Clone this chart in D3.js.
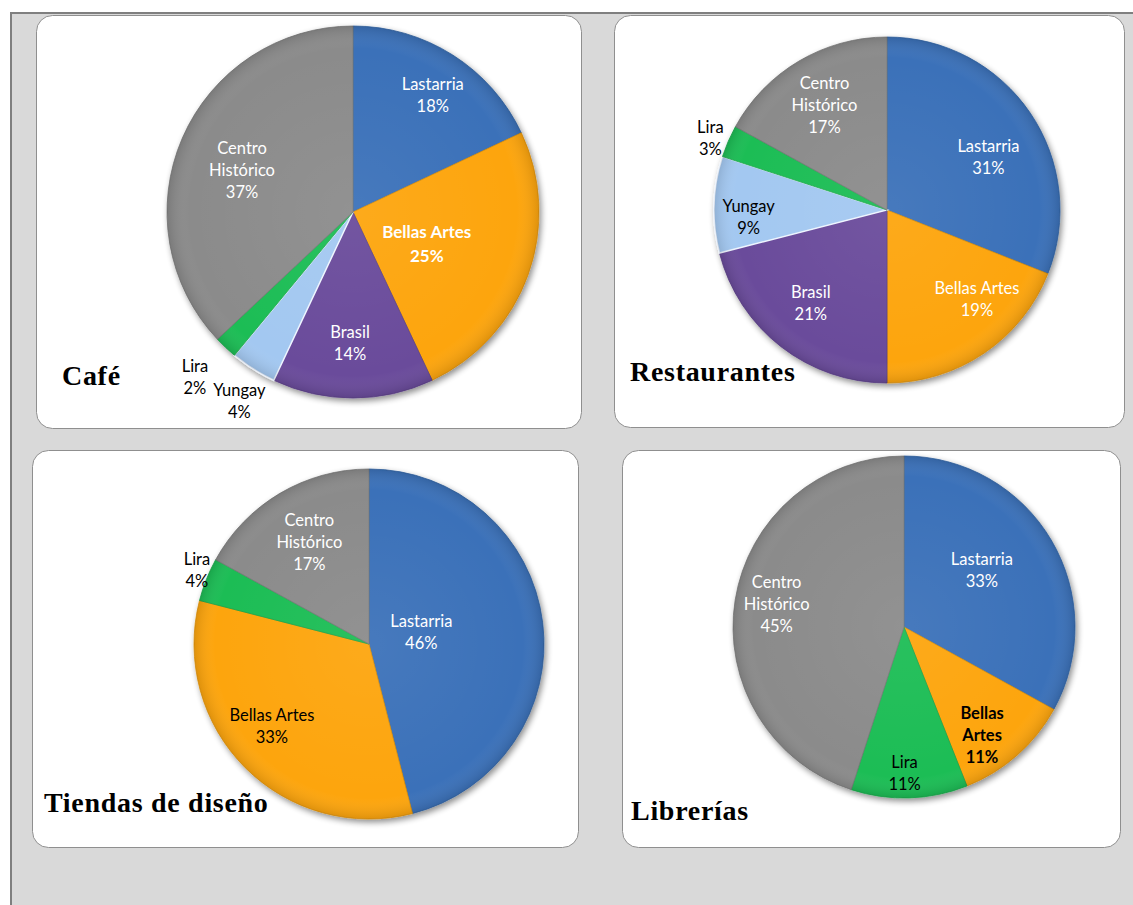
<!DOCTYPE html>
<html>
<head>
<meta charset="utf-8">
<script src="https://cdn.jsdelivr.net/npm/d3@7"></script>
<style>
  body { margin: 0; background: #fff; }
  svg { display: block; }
</style>
</head>
<body>
<div id="chart"></div>
<script>
// data (percent per barrio)
var categories = ["Lastarria", "Bellas Artes", "Brasil", "Yungay", "Lira", "Centro Histórico"];
var titles = ["Café", "Restaurantes", "Tiendas de diseño", "Librerías"];
var cafe = [18, 25, 14, 4, 2, 37];
var restaurantes = [31, 19, 21, 9, 3, 17];
var tiendas = [46, 33, 0, 0, 4, 17];
var librerias = [33, 11, 0, 0, 11, 45];
var series = [cafe, restaurantes, tiendas, librerias];

var colors = {
  "Lastarria": "#3a71b9",
  "Bellas Artes": "#fda50c",
  "Brasil": "#6a4b9b",
  "Yungay": "#a3c8f1",
  "Lira": "#1fbd55",
  "Centro Histórico": "#8b8b8b"
};

// layout: panel box, pie centre/radius, title spot, label placement per slice
// f = fraction of radius along mid-angle, dx/dy = small nudges
var layout = [
  { box: [36, 15, 545, 413], cx: 353, cy: 212, r: 186, title: [62, 385],
    labels: {
      "Lastarria": { f: 0.74, dx: 6, fill: "#fff" },
      "Bellas Artes": { f: 0.45, dx: -5, dy: 5, fill: "#fff", bold: true, big: true },
      "Brasil": { f: 0.70, dx: -3, dy: 2, fill: "#fff" },
      "Yungay": { f: 1.18, dx: 4, dy: 5, fill: "#000" },
      "Lira": { f: 1.21, dx: -4, dy: 2, fill: "#000" },
      "Centro Histórico": { f: 0.65, dy: 7, fill: "#fff", split: true }
    } },
  { box: [614, 15, 510, 412], cx: 887, cy: 210, r: 173, title: [630, 381],
    labels: {
      "Lastarria": { f: 0.66, dx: 7, dy: 12, fill: "#fff" },
      "Bellas Artes": { f: 0.73, dx: 19, dy: -14, fill: "#fff" },
      "Brasil": { f: 0.70, dx: -2, dy: -2, fill: "#fff" },
      "Yungay": { f: 0.80, dy: 12, fill: "#000" },
      "Lira": { f: 1.10, dx: -2, dy: 5, fill: "#000" },
      "Centro Histórico": { f: 0.71, dy: 2, fill: "#fff", split: true }
    } },
  { box: [32, 450, 546, 397], cx: 369, cy: 644, r: 175, title: [44, 812],
    labels: {
      "Lastarria": { f: 0.33, dx: -5, dy: -4, fill: "#fff" },
      "Bellas Artes": { f: 0.72, dx: -8, dy: -6, fill: "#000" },
      "Lira": { f: 1.07, dx: 2, dy: -4, fill: "#000" },
      "Centro Histórico": { f: 0.67, fill: "#fff", split: true }
    } },
  { box: [622, 450, 498, 397], cx: 904, cy: 627, r: 171, title: [631, 820],
    labels: {
      "Lastarria": { f: 0.57, dx: -6, dy: -6, fill: "#fff" },
      "Bellas Artes": { f: 0.77, dx: -9, dy: 10, fill: "#000", bold: true, split: true },
      "Lira": { f: 0.85, dx: -4, dy: 2, fill: "#000" },
      "Centro Histórico": { f: 0.76, dx: 1, dy: -2, fill: "#fff", split: true }
    } }
];

var W = 1133, H = 905;
var svg = d3.select("#chart").append("svg")
  .attr("width", W)
  .attr("height", H);

var defs = svg.append("defs");
var shadow = defs.append("filter").attr("id", "shadow")
  .attr("x", "-20%").attr("y", "-20%").attr("width", "140%").attr("height", "140%");
shadow.append("feGaussianBlur").attr("in", "SourceAlpha").attr("stdDeviation", 3);
shadow.append("feOffset").attr("dx", 2).attr("dy", 3).attr("result", "off");
shadow.append("feComponentTransfer").append("feFuncA").attr("type", "linear").attr("slope", 0.45);
var merge = shadow.append("feMerge");
merge.append("feMergeNode");
merge.append("feMergeNode").attr("in", "SourceGraphic");

// soft sheen over each pie
var sheen = defs.append("radialGradient").attr("id", "sheen")
  .attr("cx", "50%").attr("cy", "50%").attr("r", "50%");
sheen.append("stop").attr("offset", "0%").attr("stop-color", "#fff").attr("stop-opacity", 0.06);
sheen.append("stop").attr("offset", "88%").attr("stop-color", "#fff").attr("stop-opacity", 0);
sheen.append("stop").attr("offset", "100%").attr("stop-color", "#000").attr("stop-opacity", 0.12);

// grey page area with darker frame on top/left
svg.append("rect").attr("x", 11).attr("y", 13).attr("width", W - 11).attr("height", H - 13)
  .attr("fill", "#d9d9d9");
svg.append("path").attr("d", "M11," + H + "V13H" + W)
  .attr("fill", "none").attr("stroke", "#7f7f7f").attr("stroke-width", 2);

var pie = d3.pie().sort(null).value(function(d) { return d.v; });

series.forEach(function(vals, i) {
  var L = layout[i];
  var data = categories.map(function(c, j) { return { name: c, v: vals[j] }; })
    .filter(function(d) { return d.v > 0; });

  svg.append("rect")
    .attr("x", L.box[0] + 0.5).attr("y", L.box[1] + 0.5)
    .attr("width", L.box[2]).attr("height", L.box[3])
    .attr("rx", 16).attr("ry", 16)
    .attr("fill", "#fff").attr("stroke", "#8f8f8f").attr("stroke-width", 1);

  var g = svg.append("g").attr("transform", "translate(" + L.cx + "," + L.cy + ")");
  var arc = d3.arc().innerRadius(0).outerRadius(L.r);

  var pg = g.append("g").attr("filter", "url(#shadow)");
  pg.selectAll("path.slice")
    .data(pie(data))
    .enter().append("path")
    .attr("class", "slice")
    .attr("d", arc)
    .attr("fill", function(d) { return colors[d.data.name]; })
    .attr("stroke", function(d) {
      return d.data.name == "Yungay" ? "#eef5ff" : d3.color(colors[d.data.name]).darker(0.4);
    })
    .attr("stroke-width", function(d) { return d.data.name == "Yungay" ? 1.5 : 0.8; });
  g.append("circle").attr("r", L.r).attr("fill", "url(#sheen)").attr("pointer-events", "none");

  pie(data).forEach(function(d) {
    var lab = L.labels[d.data.name];
    var a = (d.startAngle + d.endAngle) / 2;
    var rr = L.r * lab.f;
    var x = Math.sin(a) * rr + (lab.dx || 0), y = -Math.cos(a) * rr + (lab.dy || 0);
    var lines = lab.split ? d.data.name.split(" ") : [d.data.name];
    lines.push(d.data.v + "%");
    var lh = lab.big ? 24 : 22;
    var t = g.append("text")
      .attr("text-anchor", "middle")
      .attr("font-family", "Lato, 'Open Sans', sans-serif")
      .attr("font-size", lab.big ? 17 : 16.5)
      .attr("font-weight", lab.bold ? "bold" : "normal")
      .attr("fill", lab.fill);
    lines.forEach(function(s, k) {
      t.append("tspan")
        .attr("x", x)
        .attr("y", y + (k - (lines.length - 1) / 2) * lh + 5)
        .text(s);
    });
  });

  svg.append("text")
    .attr("x", L.title[0]).attr("y", L.title[1])
    .attr("font-family", "'Liberation Serif', 'DejaVu Serif', serif")
    .attr("font-weight", "bold")
    .attr("font-size", 28)
    .attr("letter-spacing", 0.7)
    .attr("fill", "#000")
    .text(titles[i]);
});
</script>
</body>
</html>
